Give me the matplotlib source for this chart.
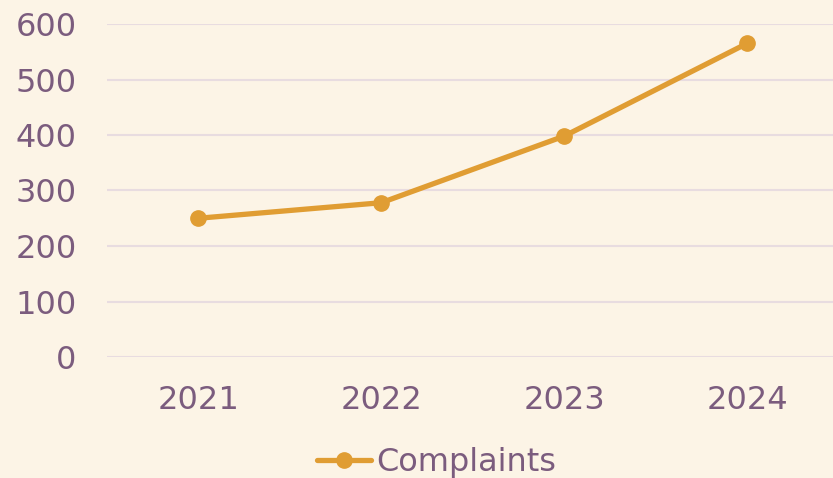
import matplotlib.pyplot as plt

years = ['2021', '2022', '2023', '2024']
complaints = [250, 278, 398, 565]
yticks = [0, 100, 200, 300, 400, 500, 600]

bg = '#FCF4E6'
text_col = '#7B5C7E'
line_col = '#E09D33'
grid_col = '#E8DCE0'

fig = plt.figure(figsize=(8.33, 4.78), dpi=100, facecolor=bg)
ax = fig.add_axes([107 / 833, 1 - 357 / 478, (838.5 - 107) / 833, (357 - 24) / 478])
ax.set_facecolor(bg)

ax.plot(range(len(years)), complaints, color=line_col, lw=3.8, marker='o',
        markersize=11, label='Complaints', solid_capstyle='round')

ax.set_xlim(-0.5, len(years) - 0.5)
ax.set_ylim(0, 600)
ax.set_yticks(yticks)
ax.set_xticks(range(len(years)))
ax.set_xticklabels(years)
ax.grid(axis='y', color=grid_col, lw=1.5)
ax.set_axisbelow(True)
for s in ax.spines.values():
    s.set_visible(False)
ax.tick_params(length=0, colors=text_col, labelsize=23)
ax.tick_params(axis='y', pad=22)
ax.tick_params(axis='x', pad=20)

leg = fig.legend(loc='lower center', bbox_to_anchor=(0.524, -0.06), frameon=False,
                 fontsize=23, handlelength=1.7, handletextpad=0.15)
for t in leg.get_texts():
    t.set_color(text_col)

fig.savefig('out.png', dpi=100, facecolor=bg)
